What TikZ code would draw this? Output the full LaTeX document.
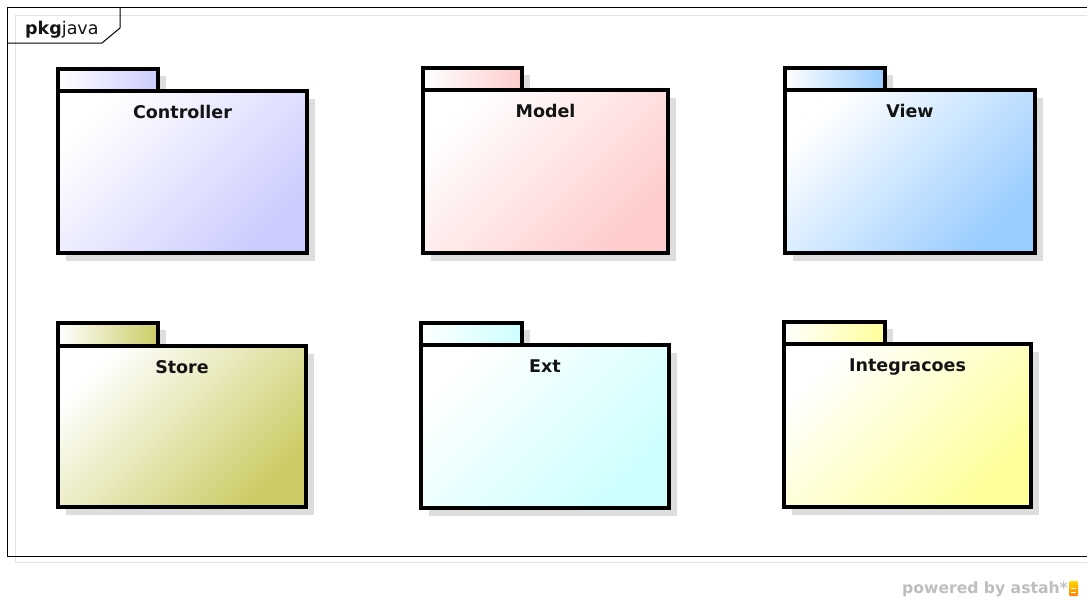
\documentclass[tikz,border=0pt]{standalone}
\usepackage{fontspec}
\setmainfont{DejaVu Sans}
\definecolor{shadowgray}{RGB}{221,221,221}
\definecolor{framegray}{RGB}{225,225,225}
\definecolor{labelgray}{RGB}{190,190,190}
\definecolor{ctrlblue}{RGB}{204,204,255}
\definecolor{modelpink}{RGB}{255,204,204}
\definecolor{viewblue}{RGB}{153,204,255}
\definecolor{storeolive}{RGB}{204,204,102}
\definecolor{extcyan}{RGB}{204,255,255}
\definecolor{integyellow}{RGB}{255,255,153}
\definecolor{textdark}{RGB}{20,20,20}

% one UML package: name, left x, tab top, tab right, body top, body right, bottom, colour, label
\newcommand\umlpkg[9]{%
  \fill[shadowgray] (#2+8,#3+7) rectangle (#4+8,#5+8);
  \fill[shadowgray] (#2+8,#5+8) rectangle (#6+8,#7+8);
  \draw[pkgline, left color=white, right color=#8] (#2,#3) rectangle (#4,#5);
  \draw[pkgline, top color=white, bottom color=#8, shading angle=45] (#2,#5) rectangle (#6,#7);
  \node[pkglabel] (#1) at ({(#2+#6)/2},#5+27) {#9};
}

\begin{document}
\begin{tikzpicture}[x=1pt,y=-1pt,
  pkgline/.style={draw=black, line width=3.3pt, line join=miter},
  pkglabel/.style={anchor=base, inner sep=0pt, text=textdark,
    font=\bfseries\fontsize{17.5}{20}\selectfont},
  framelabel/.style={anchor=base west, inner sep=0pt, text=textdark,
    font=\fontsize{17.5}{20}\selectfont}]
\useasboundingbox (0,0) rectangle (1087,597);
\fill[white] (0,0) rectangle (1087,597);

% outer package frame with its shadow
\draw[framegray, line width=1.2pt] (15.5,15.5) rectangle (1095,562.5);
\draw[black, line width=1pt] (7,7) rectangle (1087,556);
\draw[black, line width=1pt] (7,43) -- (102,43) -- (120,28) -- (120,7);
\node[framelabel] (frametitle) at (25,34.5) {\textbf{pkg}java};

% packages
\umlpkg{controller}{58}{69}{158}{91}{307}{253}{ctrlblue}{Controller}
\umlpkg{model}{423}{68}{522}{90}{668}{253}{modelpink}{Model}
\umlpkg{view}{785}{68}{885}{90}{1035}{253}{viewblue}{View}
\umlpkg{store}{58}{323}{158}{346}{306}{507}{storeolive}{Store}
\umlpkg{ext}{421}{323}{522}{345}{669}{508}{extcyan}{Ext}
\umlpkg{integracoes}{784}{322}{885}{344}{1031}{507}{integyellow}{Integracoes}

% tool credit
\node[anchor=base east, inner sep=0pt, text=labelgray,
  font=\bfseries\fontsize{15.6}{18}\selectfont] (credit) at (1068,593) {powered by astah*};
\shade[top color=yellow!70!orange, bottom color=orange, rounded corners=1pt]
  (1069,581) rectangle (1078,596);
\draw[white, line width=1pt] (1071,588) -- (1076,588) (1071,592.5) -- (1076,592.5);
\end{tikzpicture}
\end{document}
